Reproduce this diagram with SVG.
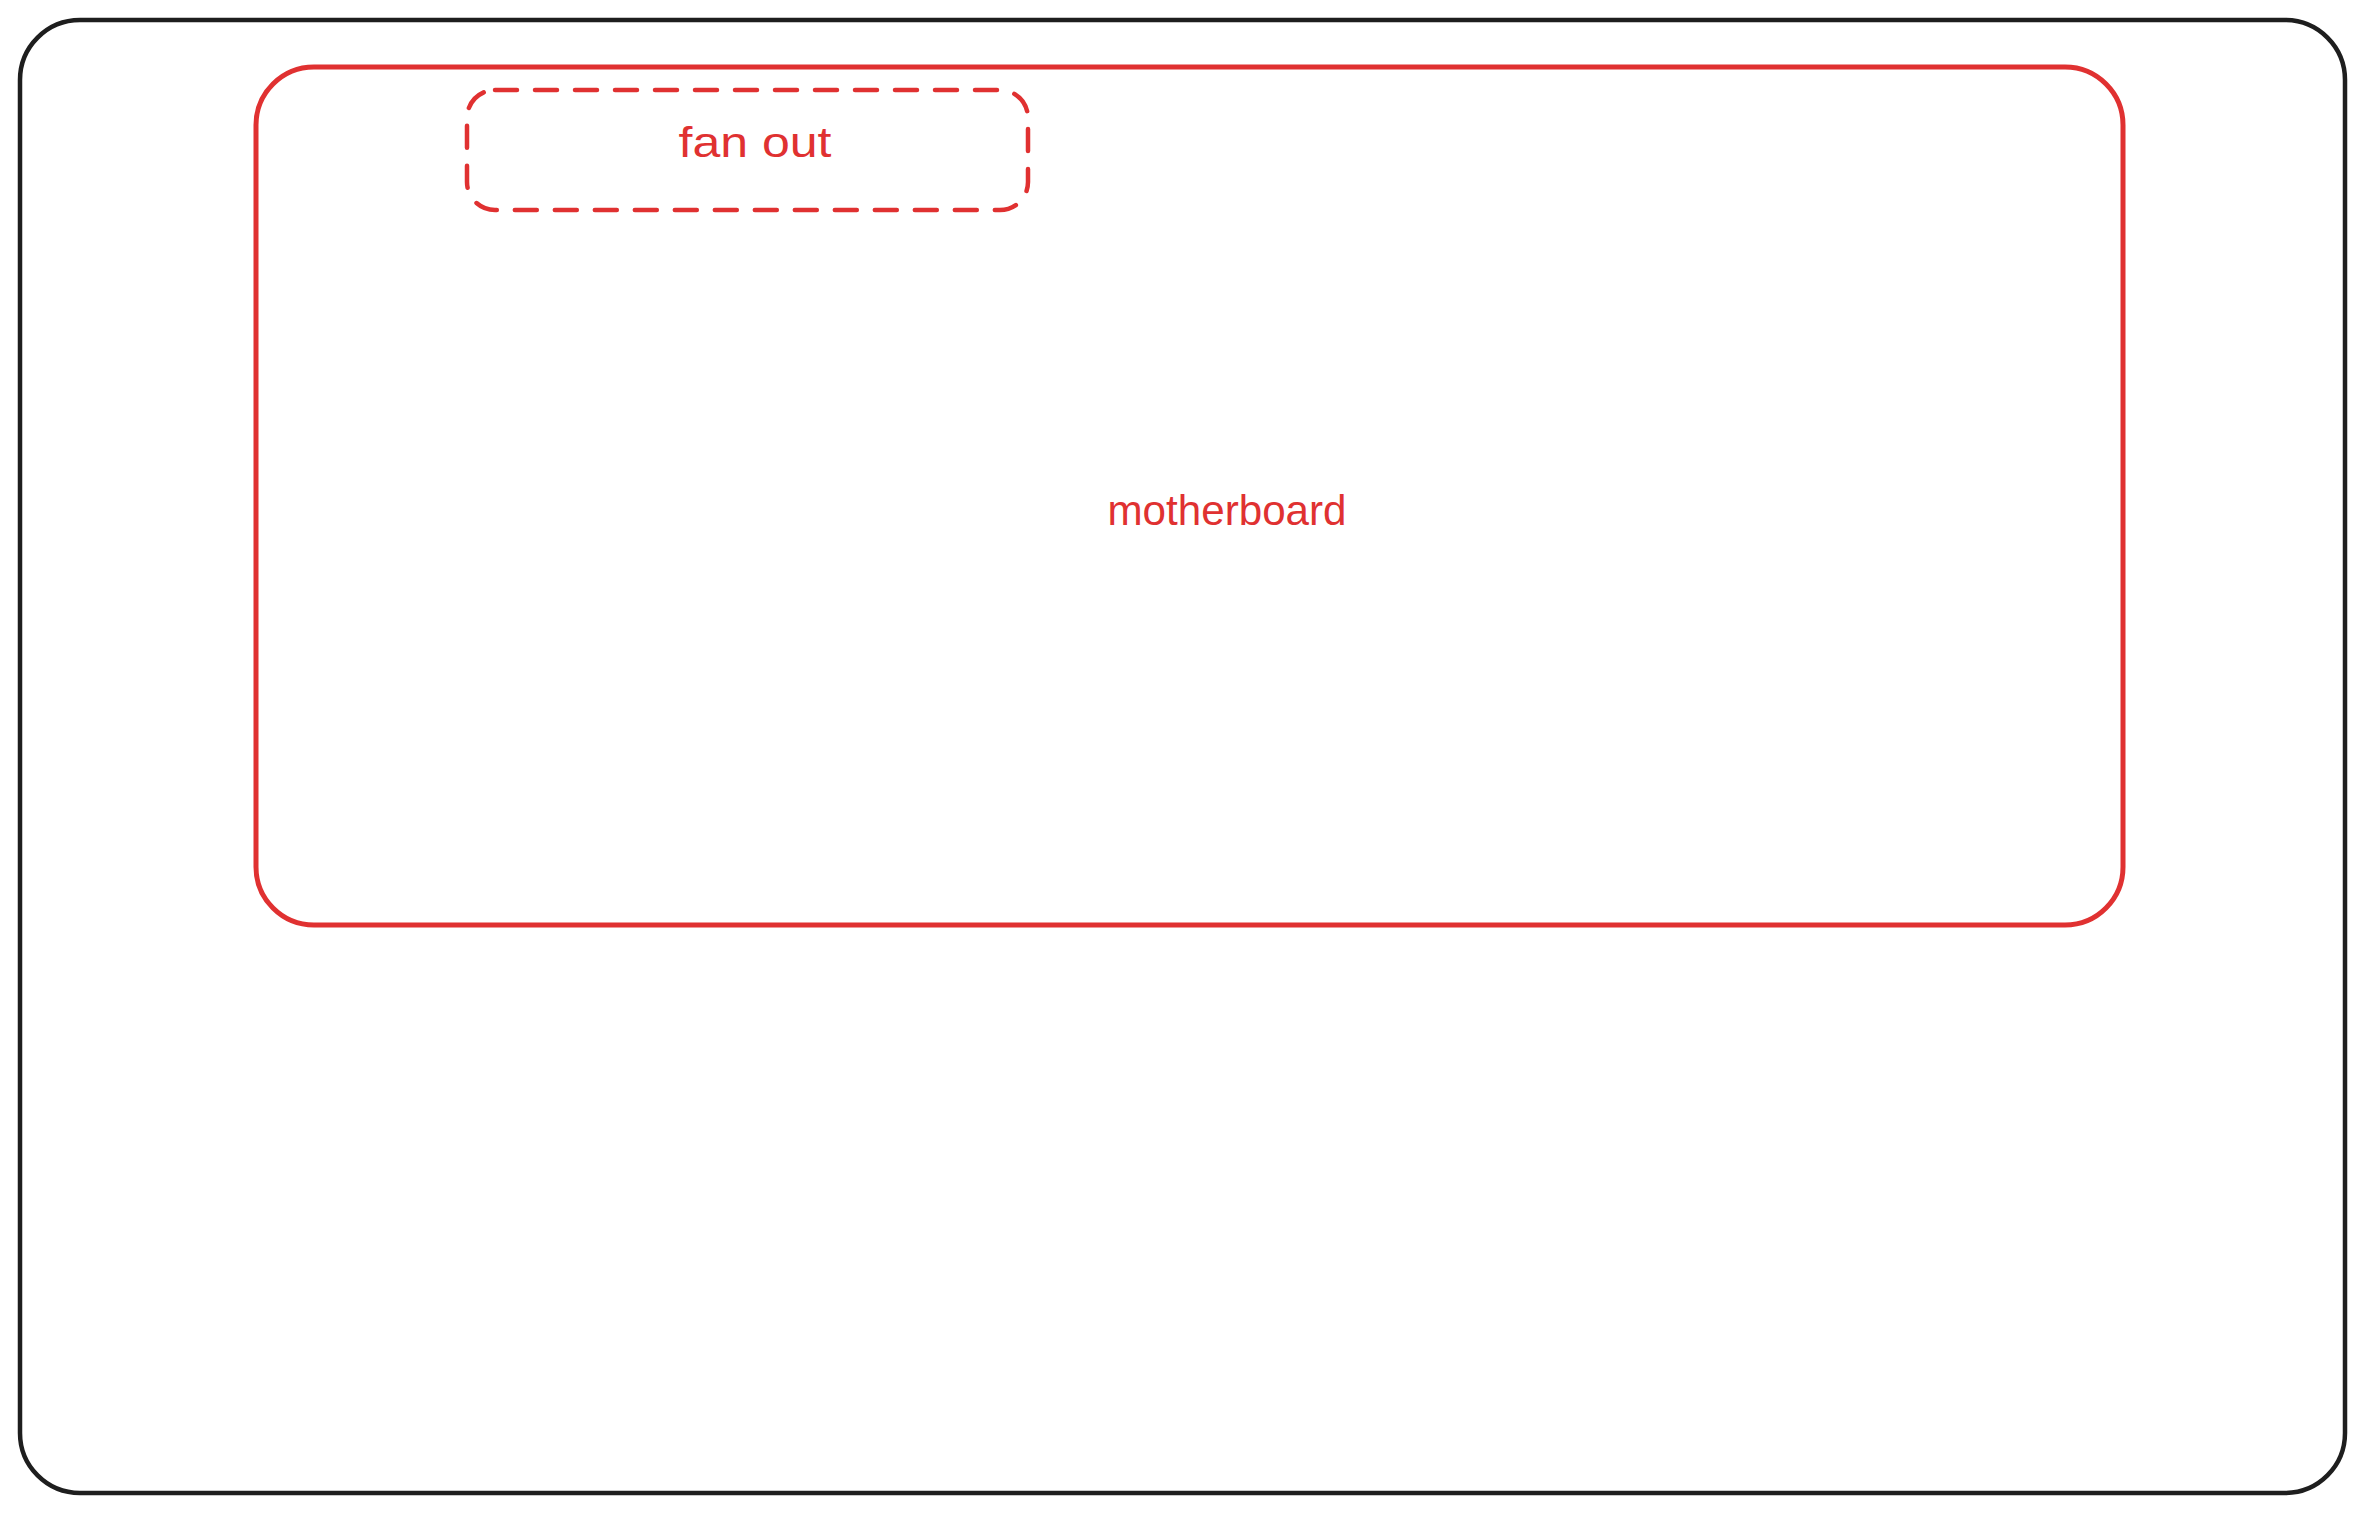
<svg xmlns="http://www.w3.org/2000/svg" width="2365" height="1513" viewBox="0 0 2365 1513">
  <style>
    .outer { fill: none; stroke: #1e1e1e; stroke-width: 4.5; }
    .board { fill: none; stroke: #e03131; stroke-width: 5; }
    .fan { fill: none; stroke: #e03131; stroke-width: 4.5; stroke-dasharray: 22 18; stroke-linecap: round; }
    .lbl { font-family: "Liberation Sans", Arial, sans-serif; font-size: 42px; fill: #e03131; text-anchor: middle; }
  </style>
  <rect width="2365" height="1513" fill="#ffffff"/>
  <g id="case">
    <rect class="outer" x="20" y="20" width="2325" height="1473" rx="60" ry="60"/>
  </g>
  <g id="motherboard">
    <rect class="board" x="256" y="67" width="1867" height="858" rx="58" ry="58"/>
    <text class="lbl" x="1227" y="525" textLength="239" lengthAdjust="spacingAndGlyphs">motherboard</text>
  </g>
  <g id="fan-out">
    <rect class="fan" x="467" y="90" width="561" height="120" rx="28" ry="28"/>
    <text class="lbl" x="755" y="157" textLength="153" lengthAdjust="spacingAndGlyphs">fan out</text>
  </g>
  <g id="connectors"/>
</svg>
